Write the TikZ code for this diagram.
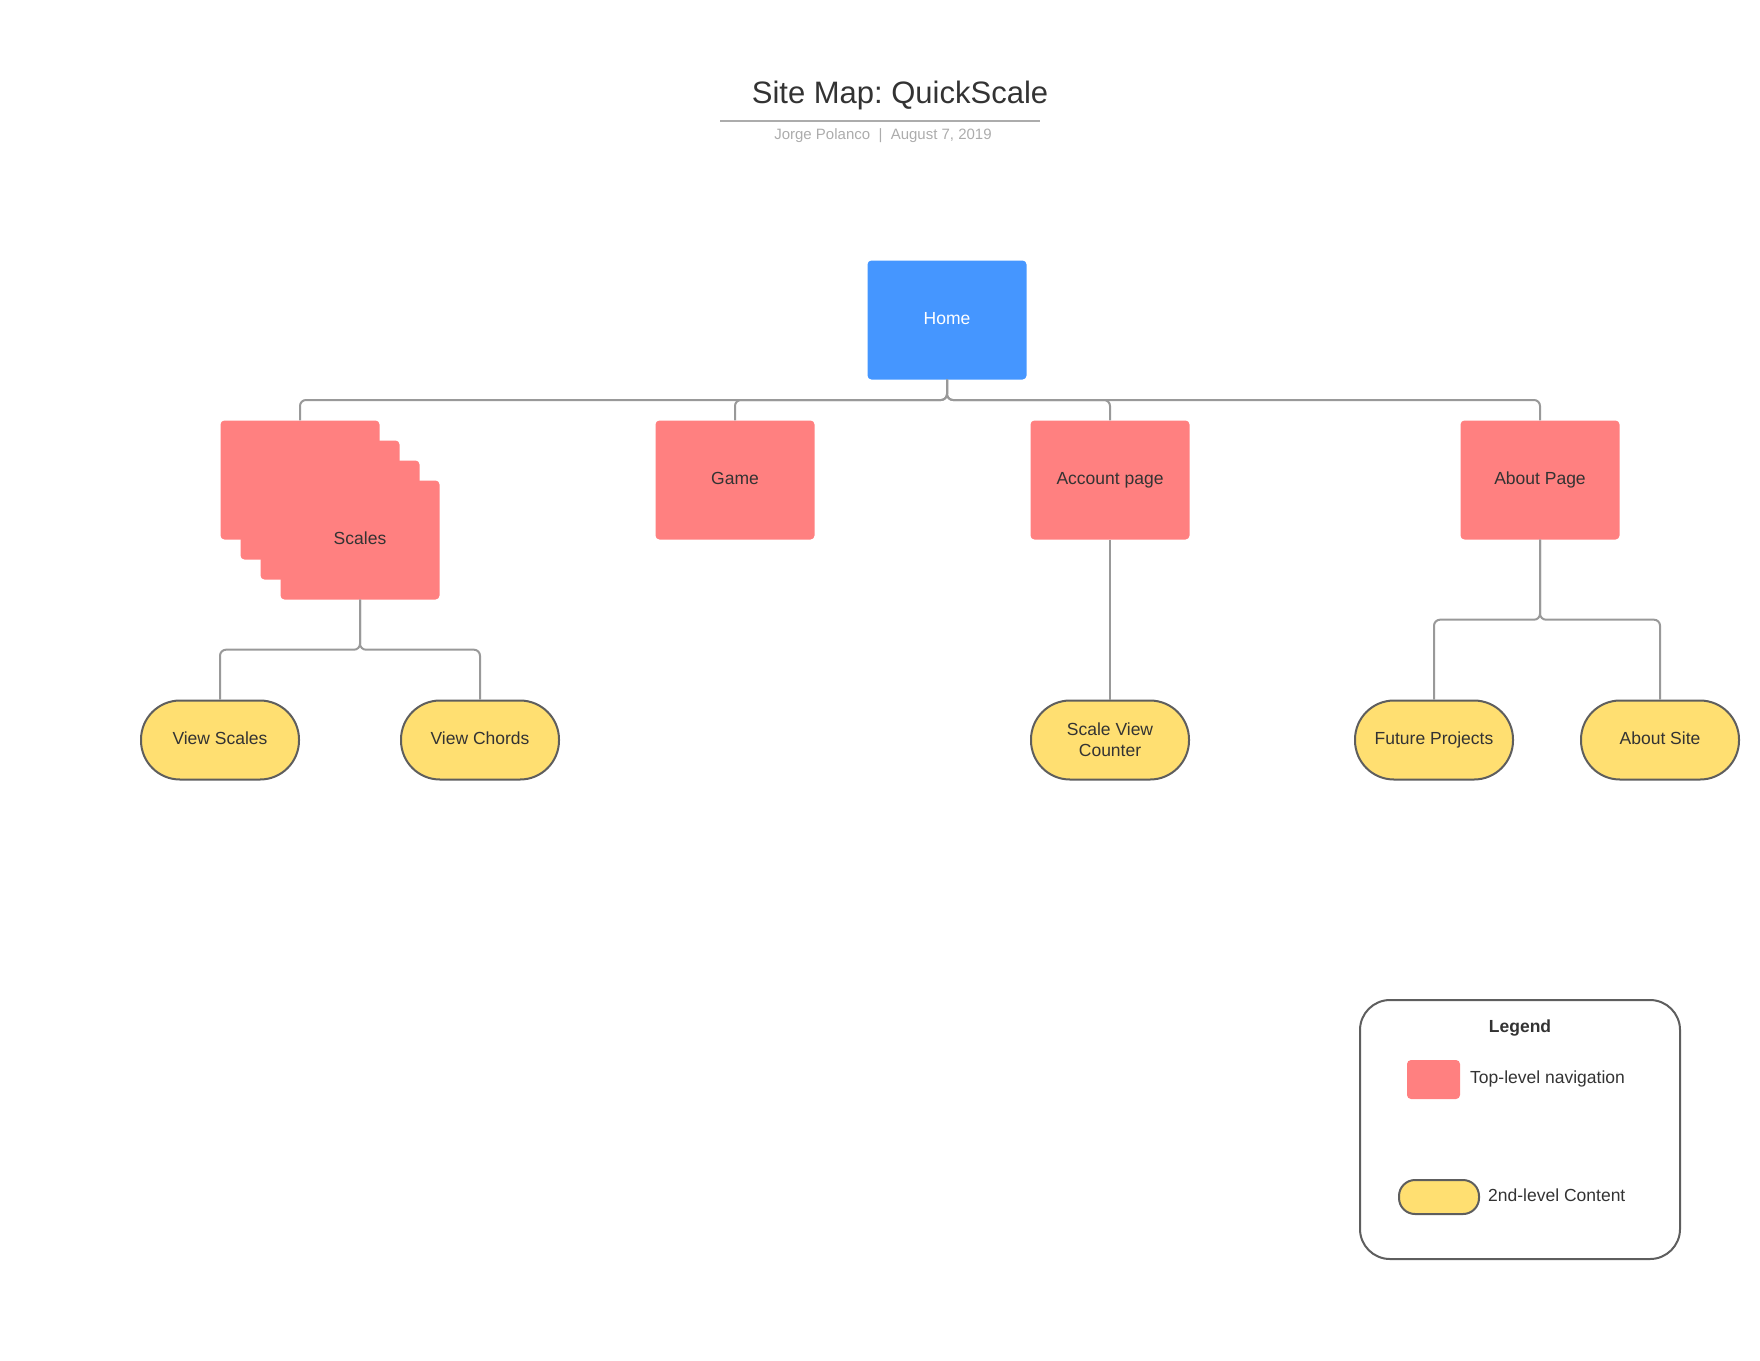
\documentclass[tikz,border=0pt]{standalone}
\usepackage{fontspec}
\setmainfont{Liberation Sans}
\frenchspacing
\definecolor{navred}{HTML}{FF8080}
\definecolor{homeblue}{HTML}{4596FF}
\definecolor{pillyellow}{HTML}{FFDF71}
\definecolor{inkgray}{HTML}{333333}
\definecolor{wiregray}{HTML}{999999}
\definecolor{edgegray}{HTML}{5E5E5E}
\tikzset{
  page/.style={x=1pt, y=-1pt},
  navbox/.style={rectangle, rounded corners=4pt, fill=navred, text=inkgray,
    minimum width=159pt, minimum height=119pt, inner sep=0pt,
    text height=12.6pt, text depth=3.6pt,
    font=\fontsize{17.5}{21}\selectfont},
  homebox/.style={navbox, fill=homeblue, text=white},
  pill/.style={rectangle, rounded corners=39pt, fill=pillyellow, draw=edgegray,
    line width=2pt, text=inkgray, minimum width=158pt, minimum height=79pt,
    inner sep=0pt, align=center, font=\fontsize{17.5}{21}\selectfont},
  onerow/.style={text height=12.6pt, text depth=3.6pt},
  link/.style={draw=wiregray, line width=2pt, rounded corners=6pt},
  legendtext/.style={text=inkgray, anchor=west, inner sep=0pt,
    font=\fontsize{17.5}{21}\selectfont},
}
\begin{document}
\begin{tikzpicture}[page]
  \useasboundingbox (0,0) rectangle (1760,1360);

  % heading
  \node[text=inkgray, font=\fontsize{31}{36}\selectfont] (title) at (900,95) {Site Map: QuickScale};
  \draw[draw=gray!65, line width=2pt] (720,121) -- (1040,121);
  \node[text=gray!65, font=\fontsize{15}{18}\selectfont] (byline) at (883,136) {Jorge Polanco~~|~~August 7, 2019};

  % home and top level
  \node[homebox] (home) at (947,320) {Home};
  \node[navbox] (scalesA) at (300,480) {};
  \node[navbox] (scalesB) at (320,500) {};
  \node[navbox] (scalesC) at (340,520) {};
  \node[navbox] (scalesD) at (360,540) {Scales};
  \node[navbox] (game) at (735,480) {Game};
  \node[navbox] (account) at (1110,480) {Account page};
  \node[navbox] (about) at (1540,480) {About Page};

  \coordinate (bus) at (947,400);
  \draw[link] (home.south) -- (home.south |- bus) -| (scalesA.north);
  \draw[link] (home.south) -- (home.south |- bus) -| (game.north);
  \draw[link] (home.south) -- (home.south |- bus) -| (account.north);
  \draw[link] (home.south) -- (home.south |- bus) -| (about.north);

  % second level
  \node[pill, onerow] (viewscales) at (220,740) {View Scales};
  \node[pill, onerow] (viewchords) at (480,740) {View Chords};
  \node[pill] (counter) at (1110,740) {Scale View\\Counter};
  \node[pill, onerow] (future) at (1434,740) {Future Projects};
  \node[pill, onerow] (aboutsite) at (1660,740) {About Site};

  \draw[link] (scalesD.south) -- ++(0,50) -| (viewscales.north);
  \draw[link] (scalesD.south) -- ++(0,50) -| (viewchords.north);
  \draw[link] (account.south) -- (counter.north);
  \draw[link] (about.south) -- ++(0,80) -| (future.north);
  \draw[link] (about.south) -- ++(0,80) -| (aboutsite.north);

  % legend
  \node[draw=edgegray, line width=2pt, rounded corners=30pt, minimum width=320pt,
    minimum height=259pt] (legend) at (1520,1129.5) {};
  \node[text=inkgray, font=\bfseries\fontsize{17.5}{21}\selectfont] (legendhead) at (1520,1028) {Legend};
  \node[navbox, minimum width=53pt, minimum height=39pt] (keynav) at (1433.5,1079.5) {};
  \node[legendtext] (keynavtext) at (1470,1079) {Top-level navigation};
  \node[pill, minimum width=80pt, minimum height=34pt, rounded corners=16pt] (keypill) at (1439,1197) {};
  \node[legendtext] (keypilltext) at (1488,1195) {2nd-level Content};
\end{tikzpicture}
\end{document}
